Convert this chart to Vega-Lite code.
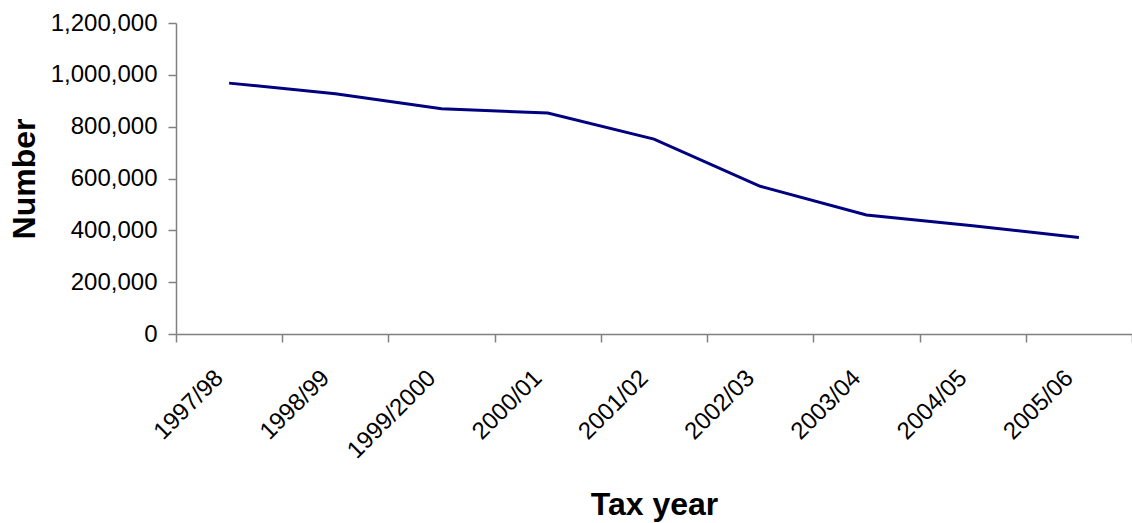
{
  "$schema": "https://vega.github.io/schema/vega-lite/v6.json",
  "autosize": "none",
  "width": 956,
  "height": 311,
  "padding": {"left": 176, "top": 23, "right": 0, "bottom": 189},
  "background": "white",
  "config": {
    "view": {"stroke": null},
    "font": "Liberation Sans",
    "axis": {
      "grid": false,
      "domainColor": "#808080",
      "domainWidth": 1.5,
      "tickColor": "#808080",
      "tickWidth": 1.5,
      "tickSize": 8,
      "labelFont": "Liberation Sans",
      "labelFontSize": 24,
      "labelColor": "#000000",
      "titleFont": "Liberation Sans",
      "titleFontWeight": "bold",
      "titleFontSize": 32,
      "titleColor": "#000000"
    }
  },
  "data": {
    "values": [
      {"year": "1997/98", "number": 968000},
      {"year": "1998/99", "number": 927000},
      {"year": "1999/2000", "number": 869000},
      {"year": "2000/01", "number": 853000},
      {"year": "2001/02", "number": 752000},
      {"year": "2002/03", "number": 570000},
      {"year": "2003/04", "number": 459000},
      {"year": "2004/05", "number": 418000},
      {"year": "2005/06", "number": 372000}
    ]
  },
  "mark": {"type": "line", "color": "#000080", "strokeWidth": 3},
  "encoding": {
    "x": {
      "field": "year",
      "type": "ordinal",
      "sort": null,
      "bandPosition": 0.5,
      "scale": {"type": "band", "paddingInner": 0, "paddingOuter": 0},
      "axis": {
        "title": "Tax year",
        "labelAngle": -45,
        "labelAlign": "right",
        "labelBaseline": "middle",
        "labelPadding": 32,
        "labelOffset": -10,
        "tickBand": "extent",
        "titleY": 180,
        "titleBaseline": "alphabetic"
      }
    },
    "y": {
      "field": "number",
      "type": "quantitative",
      "scale": {"domain": [0, 1200000], "nice": false},
      "axis": {
        "title": "Number",
        "values": [0, 200000, 400000, 600000, 800000, 1000000, 1200000],
        "format": ",d",
        "labelPadding": 11,
        "titlePadding": 9
      }
    }
  }
}
